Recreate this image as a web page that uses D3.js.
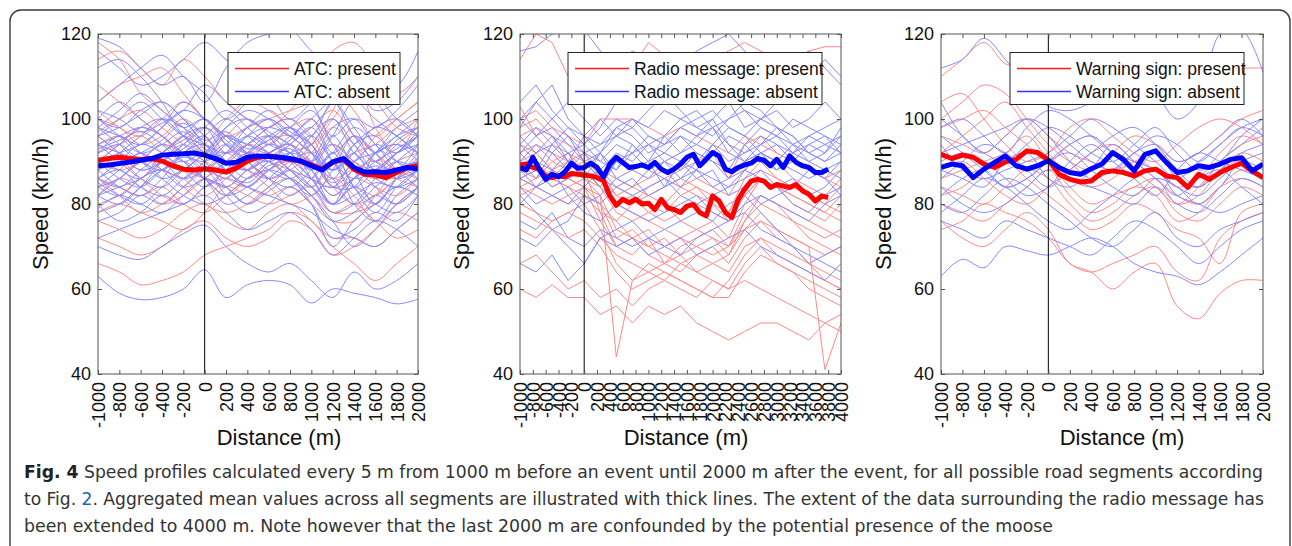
<!DOCTYPE html>
<html>
<head>
<meta charset="utf-8">
<script src="https://cdn.jsdelivr.net/npm/d3@7"></script>
<style>
body { margin: 0; background: #fff }
svg { display: block }
text { font-family: "Liberation Sans", Arial, Helvetica, sans-serif }
</style>
</head>
<body>
<script>
// ---- data ----
var speedTicks = [40, 60, 80, 100, 120]
var distTicksShort = [-1000,-800,-600,-400,-200,0,200,400,600,800,1000,1200,1400,1600,1800,2000]
var distTicksLong = [-1000,-800,-600,-400,-200,0,200,400,600,800,1000,1200,1400,1600,1800,2000,
  2200,2400,2600,2800,3000,3200,3400,3600,3800,4000]

var legendPresent = ["ATC: present", "Radio message: present", "Warning sign: present"]
var legendAbsent = ["ATC: absent", "Radio message: absent", "Warning sign: absent"]

// distance grids (m)
var grid100 = [-1000,-900,-800,-700,-600,-500,-400,-300,-200,-100,0,100,200,300,400,500,600,700,800,900,
  1000,1100,1200,1300,1400,1500,1600,1700,1800,1900,2000]
var grid100Long = [-1000,-900,-800,-700,-600,-500,-400,-300,-200,-100,0,100,200,300,400,500,600,700,800,900,
  1000,1100,1200,1300,1400,1500,1600,1700,1800,1900,2000,2100,2200,2300,2400,2500,2600,2700,2800,2900,
  3000,3100,3200,3300,3400,3500,3600,3700,3800]
var grid200 = [-1000,-800,-600,-400,-200,0,200,400,600,800,1000,1200,1400,1600,1800,2000]
var grid250 = [-1000,-750,-500,-250,0,250,500,750,1000,1250,1500,1750,2000,2250,2500,2750,3000,3250,3500,3750,4000]

// aggregated means (thick lines)
var atcPresentMean = [90.3,90.7,91,90.7,90.5,90.7,90.1,89,88.2,88,88.3,88,87.5,88.5,90.1,91,91.3,91,90.5,90.1,
  89.2,88.2,89.8,90.5,88.2,87,86.8,86.2,87.4,88.6,89]
var atcAbsentMean = [89,89.2,89.5,89.9,90.3,90.7,91.5,91.7,91.8,92,91.5,90.7,89.6,89.8,91,91.3,91.2,91,90.7,90.1,
  89,88,89.9,90.7,88.6,87.5,87.6,87.4,88,88.6,88.2]
var radioPresentMean = [89.2,89.4,88.6,88.2,86.5,86.2,86.6,86.4,87.2,87,86.8,86.6,86.2,85.5,81.9,79.7,81.1,80.3,81.1,80,
  80.2,78.7,81.1,79.1,78.7,78,79.5,79.9,78,77.2,81.9,80.7,78,76.8,81.1,83.5,85.4,85.8,85.4,83.9,
  84.6,84.2,83.9,84.6,83.1,82.3,80.7,81.9,81.5]
var radioAbsentMean = [88.6,88,91,88.2,85.8,87,86.4,87.6,89.6,88.4,88.6,89.6,88.6,86.4,89.4,91,89.8,88.6,88.8,89.2,
  88.6,89.8,88.2,87.4,88.2,89.4,91,91.7,89,90.5,92.1,91.3,88.2,87.6,88.6,89.2,89.6,90.7,90.3,89,
  90.5,88.6,91.3,89.8,89,88.6,87.4,87.4,88.2]
var warnPresentMean = [91.7,90.7,91.5,91,89.4,88.6,89.9,90.5,92.5,92.1,90.4,87,85.8,85.2,85.4,87.4,87.8,87.4,86.6,87.8,
  88.2,86.6,86.2,83.9,87,85.8,87.4,88.6,89.6,87.8,86.2]
var warnAbsentMean = [88.6,89.4,89,86.2,88.2,89.8,91.3,89,88.2,89,90.2,88.6,87.4,87,88.3,89.4,92.1,90.5,87.8,91.7,
  92.5,89.8,87.4,87.8,89,88.6,89.4,90.5,90.9,87.8,89.4]

// individual segment profiles (thin lines), on grid200
var atcPresentRuns = [
  [114,116,112,108,114,110,104,100,98,102,108,116,118,112,106,110],
  [92,94,96,92,88,86,84,88,92,94,90,86,88,86,90,92],
  [86,84,82,84,80,78,82,86,88,90,86,80,84,82,86,88],
  [97,100,102,98,94,90,88,92,95,96,92,94,90,88,92,96],
  [66,64,61,62,64,68,70,72,74,78,76,70,66,62,66,70],
  [76,74,72,74,78,80,76,74,78,80,76,72,72,70,74,78],
  [104,108,110,112,106,100,96,98,100,102,104,108,102,96,100,104],
  [90,88,90,94,92,88,86,84,88,90,88,82,86,84,82,86],
  [80,82,86,88,84,80,78,80,84,86,82,78,78,80,84,82],
  [108,104,100,96,92,94,100,104,102,98,94,100,106,104,98,96],
  [94,96,92,88,86,82,86,90,92,94,90,84,80,82,86,90],
  [84,86,90,92,96,92,88,84,82,84,80,76,76,82,88,90],
  [100,98,94,96,100,96,92,94,98,100,96,88,92,94,98,100],
  [72,70,68,70,74,76,72,70,72,76,74,68,70,74,78,76],
  [88,90,86,82,80,84,88,92,90,88,86,84,88,90,86,84],
  [118,114,106,102,98,92,96,100,96,90,94,102,110,98,92,100],
  [78,80,78,76,74,78,84,82,80,82,84,78,80,76,72,74],
  [96,92,88,90,94,98,94,90,86,88,92,98,94,90,94,98],
  [82,86,84,80,82,86,90,94,92,88,84,90,96,92,88,86],
  [102,98,96,100,104,100,96,92,94,98,100,94,90,96,100,104],
  [90,94,98,96,90,86,82,86,90,94,98,102,96,92,88,90],
  [86,82,78,80,84,88,92,88,84,80,82,86,82,76,80,84]
]
var atcAbsentRuns = [
  [119,117,112,108,110,104,112,118,120,121,116,112,108,102,104,110],
  [96,98,101,104,100,95,97,93,95,98,92,85,90,94,92,96],
  [88,90,92,95,99,94,90,88,91,93,88,82,86,89,87,91],
  [82,84,86,90,93,96,88,85,89,90,86,80,82,85,84,88],
  [92,94,90,88,91,89,86,92,96,94,90,96,88,80,86,92],
  [98,102,106,102,98,100,94,90,92,95,100,92,96,90,95,98],
  [85,82,80,84,88,86,84,80,83,86,82,76,78,82,80,84],
  [90,88,86,92,95,98,92,96,98,96,92,88,94,96,90,86],
  [76,78,82,80,84,88,82,78,80,84,80,72,74,78,76,82],
  [63,59,57.5,58,60,64.5,58,61,62,61,56.7,60,59,58,56.5,57.6],
  [70,68,67,70,73,75,70,66,64,66,62,58,64,60,62,66],
  [104,108,112,115,110,106,100,104,108,110,104,96,100,98,102,108],
  [94,96,98,96,92,90,94,98,100,97,94,88,92,86,90,94],
  [86,88,84,82,86,90,96,94,92,88,84,90,80,76,82,86],
  [100,96,92,94,97,93,90,88,86,89,96,100,94,88,92,97],
  [80,76,78,82,80,84,86,84,82,80,78,74,72,70,74,78],
  [112,114,110,104,96,92,98,102,100,96,98,104,110,106,100,96],
  [90,92,94,98,104,100,96,92,90,92,90,84,84,92,96,100],
  [84,86,90,86,82,80,82,86,88,86,80,70,76,80,84,82],
  [96,92,88,90,94,98,102,98,94,92,88,92,98,94,88,84],
  [78,80,84,88,90,86,80,82,86,90,92,86,80,84,88,90],
  [102,100,97,99,102,108,104,100,97,94,90,96,104,100,96,92],
  [88,84,82,86,92,94,90,88,92,94,86,80,88,84,80,84],
  [93,95,97,94,90,92,88,90,94,92,86,84,90,92,94,90],
  [72,74,76,78,80,82,78,74,76,78,74,68,72,76,74,70],
  [98,94,90,92,96,100,95,92,96,98,94,84,86,90,93,96],
  [86,90,94,92,88,84,88,92,90,86,82,88,96,92,86,88],
  [116,112,108,110,114,118,114,110,106,100,104,110,114,112,108,116],
  [82,80,84,90,94,90,84,80,84,88,84,78,80,86,90,88],
  [94,90,86,84,88,92,98,100,96,90,86,92,84,80,86,90],
  [90,94,98,100,96,92,88,84,88,92,96,90,86,88,92,94],
  [84,88,92,88,84,86,90,94,96,92,88,80,84,80,78,82],
  [100,104,100,96,92,88,92,96,94,98,102,94,88,92,98,102],
  [79,82,80,78,82,86,84,88,90,86,82,76,70,74,80,84],
  [88,92,96,100,98,94,90,94,98,100,96,104,98,92,96,98],
  [94,92,90,86,88,92,96,92,88,86,90,98,100,94,90,88],
  [86,84,88,92,96,98,94,90,86,84,88,94,90,86,84,86],
  [96,100,104,100,96,94,92,96,100,96,92,86,94,98,100,96],
  [82,86,90,94,90,86,82,84,88,92,94,100,92,88,86,90],
  [90,86,84,88,92,96,100,96,92,88,84,80,86,92,94,92],
  [98,96,94,98,102,100,96,94,92,96,100,104,96,90,88,94],
  [84,82,86,88,86,90,94,90,86,82,86,92,84,78,84,88],
  [92,96,92,90,86,88,92,98,102,98,94,88,92,98,96,92],
  [100,98,102,104,100,96,90,86,90,94,98,90,84,88,92,96]
]

// radio message panel, on grid250
var radioPresentRuns = [
  [114,120,118,110,108,110,106,112,118,115,110,112,114,116,118,116,114,112,116,117,117],
  [60,58,61,58,58,54,56,52,56,54,56,52,50,48,50,52,52,50,48,52,50],
  [66,68,64,60,62,58,60,56,60,62,60,58,62,60,62,60,58,56,54,52,54],
  [86,88,84,86,84,80,72,74,70,72,68,70,72,68,74,76,72,70,66,64,62],
  [90,88,86,88,86,84,78,76,78,80,76,74,72,70,74,78,74,72,70,68,70],
  [84,82,80,82,84,76,70,68,72,66,64,68,66,64,70,72,68,66,64,62,60],
  [92,94,90,88,90,86,84,82,80,78,82,84,80,78,86,90,86,84,82,80,84],
  [80,78,76,78,80,74,66,62,64,66,68,64,62,60,66,70,66,64,60,58,56],
  [88,86,90,92,88,84,80,78,76,74,72,74,76,72,80,86,84,82,80,78,76],
  [96,98,94,92,90,88,86,84,82,80,84,86,84,82,88,92,90,86,84,82,86],
  [82,84,86,84,82,78,76,72,74,70,72,70,68,70,76,82,80,78,76,74,72],
  [78,76,74,72,74,70,64,60,62,64,62,60,58,62,68,72,70,68,66,62,60],
  [86,84,82,80,82,80,76,80,82,84,86,84,82,78,84,88,86,84,82,80,78],
  [98,100,96,94,92,86,82,80,84,86,88,90,92,86,94,96,92,90,88,86,88],
  [88,90,86,84,86,82,74,72,70,68,66,64,66,68,76,80,78,76,74,72,74],
  [94,92,88,90,92,88,82,84,86,88,84,82,80,76,82,86,84,80,78,76,80],
  [84,86,88,86,84,82,44,62,66,64,62,60,58,58,64,68,66,64,62,60,58],
  [100,102,98,96,94,100,100,100,98,96,98,96,94,92,96,94,92,90,88,86,84],
  [74,72,76,78,76,72,68,66,64,62,66,68,70,66,72,76,74,72,70,41,52],
  [90,92,88,86,88,84,80,82,78,76,78,80,78,76,82,86,84,82,80,78,82],
  [103,96,92,90,88,78,70,72,68,66,70,72,74,70,78,82,80,76,72,70,68]
]
var radioAbsentRuns = [
  [116,117,120,121,121,116,112,116,114,110,112,116,118,120,116,112,110,114,116,112,108],
  [100,104,108,100,96,94,98,100,96,94,98,100,102,98,96,100,98,94,96,98,100],
  [90,94,92,88,92,90,94,92,96,94,98,96,100,94,92,96,94,92,96,94,92],
  [86,88,84,86,88,84,90,88,86,90,88,92,90,86,88,92,90,88,86,88,90],
  [84,80,82,84,80,82,86,84,88,86,84,88,86,84,86,88,84,86,82,84,88],
  [96,92,94,98,96,100,96,98,94,96,100,102,98,100,102,98,96,100,98,96,94],
  [72,70,74,70,66,72,70,72,68,70,72,68,70,72,74,70,68,66,64,62,66],
  [88,92,96,92,94,90,88,92,94,90,86,90,94,98,96,92,90,94,92,90,92],
  [80,84,88,82,78,76,80,78,76,78,80,82,78,76,80,82,80,78,76,80,82],
  [92,96,100,104,100,96,100,98,102,106,102,98,96,100,104,102,98,96,92,94,96],
  [66,64,68,62,66,72,74,76,72,70,68,72,74,76,78,74,72,70,66,68,70],
  [94,90,88,92,86,88,92,90,94,92,90,88,94,90,92,94,96,92,90,88,86],
  [98,104,100,96,92,94,96,100,98,102,100,98,100,104,98,100,102,98,100,104,100],
  [86,84,82,80,84,88,84,82,84,86,82,80,82,84,88,86,84,80,78,82,84],
  [76,74,78,72,70,74,72,70,72,74,76,78,76,80,82,78,74,70,68,66,64],
  [90,86,92,96,90,92,86,88,90,84,86,88,84,86,90,92,88,90,94,92,96],
  [82,78,74,76,82,80,84,86,82,84,90,86,88,82,84,80,82,84,88,86,82],
  [104,108,102,98,94,98,104,106,108,104,110,108,104,106,102,100,104,108,110,114,110],
  [94,98,96,90,88,92,98,96,92,94,96,92,90,88,94,98,96,94,90,92,98],
  [92,88,94,90,96,92,88,94,90,96,92,94,98,92,90,94,98,96,92,90,94],
  [88,84,86,90,86,92,96,94,90,92,96,94,92,96,94,90,88,92,94,96,92],
  [100,96,98,94,90,86,90,92,88,90,92,96,98,94,90,92,94,90,88,86,90]
]

// warning sign panel, on grid200
var warnPresentRuns = [
  [110,114,118,113,112,110,106,104,106,110,113,110,112,112,112,112],
  [100,104,108,106,100,94,90,88,92,96,94,90,92,96,100,102],
  [92,96,100,104,98,92,86,84,86,90,88,84,86,92,96,94],
  [86,88,90,92,96,90,84,80,82,84,86,80,82,88,92,90],
  [80,78,76,80,84,88,82,78,80,84,82,76,78,84,88,86],
  [76,72,70,74,78,74,66,64,60,64,66,56,53,59,62,62],
  [82,84,88,90,86,82,78,74,76,80,78,74,72,66,78,80],
  [96,94,92,96,100,96,92,90,88,90,92,86,84,88,90,86],
  [88,90,86,82,80,84,88,92,94,90,86,82,80,84,86,84],
  [74,76,80,78,76,72,66,64,66,68,70,64,62,72,76,78],
  [98,100,102,98,94,90,94,96,92,88,84,80,84,90,94,96],
  [84,82,80,84,88,86,80,76,78,82,84,78,76,80,84,82],
  [104,106,100,94,90,92,98,100,96,92,90,94,98,100,98,94]
]
var warnAbsentRuns = [
  [112,114,119,114,108,103,102,104,108,110,106,100,104,120,121,111],
  [63,67,65,70,69,68,70,72,70,66,64,63,61,64,68,72],
  [104,96,92,90,94,98,96,92,90,94,98,92,88,90,96,100],
  [96,92,88,84,86,90,94,96,92,88,92,86,84,90,94,98],
  [88,86,84,90,92,86,84,88,94,90,86,82,86,88,84,80],
  [80,78,82,86,84,80,76,72,70,74,78,72,70,74,76,78],
  [92,94,96,98,100,96,90,86,88,92,94,90,92,96,100,96],
  [76,74,72,76,74,72,70,68,72,76,74,70,66,70,74,76],
  [86,90,94,92,88,84,88,92,96,98,94,88,84,88,92,94],
  [98,100,96,92,98,102,100,96,92,90,88,84,82,86,90,92],
  [84,80,78,80,84,88,86,84,82,80,84,80,78,82,86,84],
  [94,88,86,88,90,92,96,100,98,94,90,86,90,94,98,100],
  [78,82,86,84,80,76,74,78,82,86,88,82,80,78,80,82],
  [90,92,90,86,82,84,90,94,90,86,82,88,92,90,88,86],
  [100,96,92,96,100,98,94,90,88,92,96,94,90,94,98,96],
  [82,86,88,84,86,90,92,88,84,82,86,84,80,84,90,88]
]

var captionLines = [
  "Speed profiles calculated every 5 m from 1000 m before an event until 2000 m after the event, for all possible road segments according",
  ["to Fig. ", "2", ". Aggregated mean values across all segments are illustrated with thick lines. The extent of the data surrounding the radio message has"],
  "been extended to 4000 m. Note however that the last 2000 m are confounded by the potential presence of the moose"
]

// ---- layout ----
var panels = [
  { left: 98, right: 418, domain: [-1000, 2000], ticks: distTicksShort, grid: grid200, curve: d3.curveCatmullRom,
    present: atcPresentRuns, absent: atcAbsentRuns, meanGrid: grid100, presentMean: atcPresentMean, absentMean: atcAbsentMean,
    boxL: 228, boxR: 400, ylabelX: 48, xlabelX: 279 },
  { left: 520, right: 841, domain: [-1000, 4000], ticks: distTicksLong, grid: grid250, curve: d3.curveLinear,
    present: radioPresentRuns, absent: radioAbsentRuns, meanGrid: grid100Long, presentMean: radioPresentMean, absentMean: radioAbsentMean,
    boxL: 568, boxR: 822, ylabelX: 469, xlabelX: 686 },
  { left: 941, right: 1263, domain: [-1000, 2000], ticks: distTicksShort, grid: grid200, curve: d3.curveCatmullRom,
    present: warnPresentRuns, absent: warnAbsentRuns, meanGrid: grid100, presentMean: warnPresentMean, absentMean: warnAbsentMean,
    boxL: 1010, boxR: 1244, ylabelX: 891, xlabelX: 1122 }
]

var plotTop = 34, plotBottom = 374

var svg = d3.select("body").append("svg")
  .attr("width", 1292)
  .attr("height", 546)

// outer rounded frame, open past the bottom of the picture
svg.append("rect")
  .attr("x", 10).attr("y", 10)
  .attr("width", 1280).attr("height", 620)
  .attr("rx", 11)
  .attr("fill", "none")
  .attr("stroke", "#3a3a3a")
  .attr("stroke-width", 1.4)

var y = d3.scaleLinear().domain([40, 120]).range([plotBottom, plotTop])

panels.forEach(function(p, i) {
  var g = svg.append("g")
  var x = d3.scaleLinear().domain(p.domain).range([p.left, p.right])

  g.append("clipPath").attr("id", "clip" + i)
    .append("rect")
      .attr("x", p.left).attr("y", plotTop)
      .attr("width", p.right - p.left).attr("height", plotBottom - plotTop)

  var plot = g.append("g").attr("clip-path", "url(#clip" + i + ")")

  var thin = d3.line()
    .x(function(d, j) { return x(p.grid[j]) })
    .y(function(d) { return y(d) })
    .curve(p.curve)

  plot.selectAll("path.runP")
    .data(p.present)
    .enter().append("path")
      .attr("class", "runP")
      .attr("d", thin)
      .attr("fill", "none")
      .attr("stroke", "#ff8888")
      .attr("stroke-width", 1)

  plot.selectAll("path.runA")
    .data(p.absent)
    .enter().append("path")
      .attr("class", "runA")
      .attr("d", thin)
      .attr("fill", "none")
      .attr("stroke", "#8888ff")
      .attr("stroke-width", 1)

  var thick = d3.line()
    .x(function(d, j) { return x(p.meanGrid[j]) })
    .y(function(d) { return y(d) })

  plot.append("path")
    .attr("d", thick(p.presentMean))
    .attr("fill", "none")
    .attr("stroke", "#ff0000")
    .attr("stroke-width", 5)
    .attr("stroke-linejoin", "round")

  plot.append("path")
    .attr("d", thick(p.absentMean))
    .attr("fill", "none")
    .attr("stroke", "#0000ff")
    .attr("stroke-width", 5)
    .attr("stroke-linejoin", "round")

  // event line
  g.append("line")
    .attr("x1", x(0)).attr("x2", x(0))
    .attr("y1", plotTop).attr("y2", plotBottom)
    .attr("stroke", "#000")
    .attr("stroke-width", 1)

  // axes, ticks pointing inward
  var yAxis = g.append("g")
    .attr("transform", "translate(" + p.left + ",0)")
    .call(d3.axisLeft(y).tickValues(speedTicks).tickSizeInner(-4).tickSizeOuter(0).tickPadding(7))
  g.append("g")
    .attr("transform", "translate(" + p.right + ",0)")
    .call(d3.axisRight(y).tickValues(speedTicks).tickSizeInner(-4).tickSizeOuter(0).tickFormat(""))
  g.append("g")
    .attr("transform", "translate(0," + plotTop + ")")
    .call(d3.axisTop(x).tickValues(p.ticks).tickSizeInner(-4).tickSizeOuter(0).tickFormat(""))
  var xAxis = g.append("g")
    .attr("transform", "translate(0," + plotBottom + ")")
    .call(d3.axisBottom(x).tickValues(p.ticks).tickSizeInner(-4).tickSizeOuter(0)
      .tickFormat(function(d) { return String(d) }))

  g.selectAll(".domain").remove()
  g.selectAll(".tick line").attr("stroke", "#555")

  yAxis.selectAll("text")
    .attr("font-size", 18)
    .attr("font-family", "Liberation Sans, Arial, sans-serif")
    .attr("fill", "#111")

  xAxis.selectAll("text")
    .attr("font-size", 18)
    .attr("font-family", "Liberation Sans, Arial, sans-serif")
    .attr("fill", "#111")
    .attr("text-anchor", "end")
    .attr("transform", "rotate(-90)")
    .attr("x", -8)
    .attr("y", 0)
    .attr("dy", "0.36em")

  // plot box
  g.append("rect")
    .attr("x", p.left).attr("y", plotTop)
    .attr("width", p.right - p.left).attr("height", plotBottom - plotTop)
    .attr("fill", "none")
    .attr("stroke", "#555")
    .attr("stroke-width", 1)

  // legend
  var lg = g.append("g")
  lg.append("rect")
    .attr("x", p.boxL).attr("y", 52.5)
    .attr("width", p.boxR - p.boxL).attr("height", 52)
    .attr("fill", "#fff")
    .attr("stroke", "#222")
    .attr("stroke-width", 1)
  var rows = [
    { label: legendPresent[i], color: "#ff1a1a", y: 68.5 },
    { label: legendAbsent[i], color: "#3333ff", y: 91.5 }
  ]
  rows.forEach(function(r) {
    lg.append("line")
      .attr("x1", p.boxL + 7).attr("x2", p.boxL + 61)
      .attr("y1", r.y).attr("y2", r.y)
      .attr("stroke", r.color)
      .attr("stroke-width", 1.5)
    lg.append("text")
      .attr("x", p.boxL + 66)
      .attr("y", r.y + 6.3)
      .attr("font-size", 17.5)
      .attr("fill", "#111")
      .text(r.label)
  })

  // axis titles
  g.append("text")
    .attr("transform", "translate(" + p.ylabelX + "," + ((plotTop + plotBottom) / 2) + ") rotate(-90)")
    .attr("text-anchor", "middle")
    .attr("font-size", 22)
    .attr("fill", "#111")
    .text("Speed (km/h)")

  g.append("text")
    .attr("x", p.xlabelX)
    .attr("y", 445)
    .attr("text-anchor", "middle")
    .attr("font-size", 22)
    .attr("fill", "#111")
    .text("Distance (m)")
})

// caption
var capFont = "'Liberation Sans Narrow', 'DejaVu Sans Condensed', 'Roboto Condensed', 'Noto Sans', sans-serif"
var capWidths = [1239, 1240, 1029]
var capY = [478, 505, 532]

captionLines.forEach(function(line, i) {
  var t = svg.append("text")
    .attr("x", 24)
    .attr("y", capY[i])
    .attr("font-size", 18)
    .attr("fill", "#333")
    .attr("textLength", capWidths[i])
    .attr("lengthAdjust", "spacingAndGlyphs")
    .style("font-family", capFont)
  if (i === 0) {
    t.append("tspan").attr("font-weight", "bold").attr("fill", "#222").text("Fig. 4")
    t.append("tspan").text(" " + line)
  } else if (i === 1) {
    t.append("tspan").text(line[0])
    t.append("tspan").attr("fill", "#1f5fb8").text(line[1])
    t.append("tspan").text(line[2])
  } else {
    t.text(line)
  }
})
</script>
</body>
</html>
